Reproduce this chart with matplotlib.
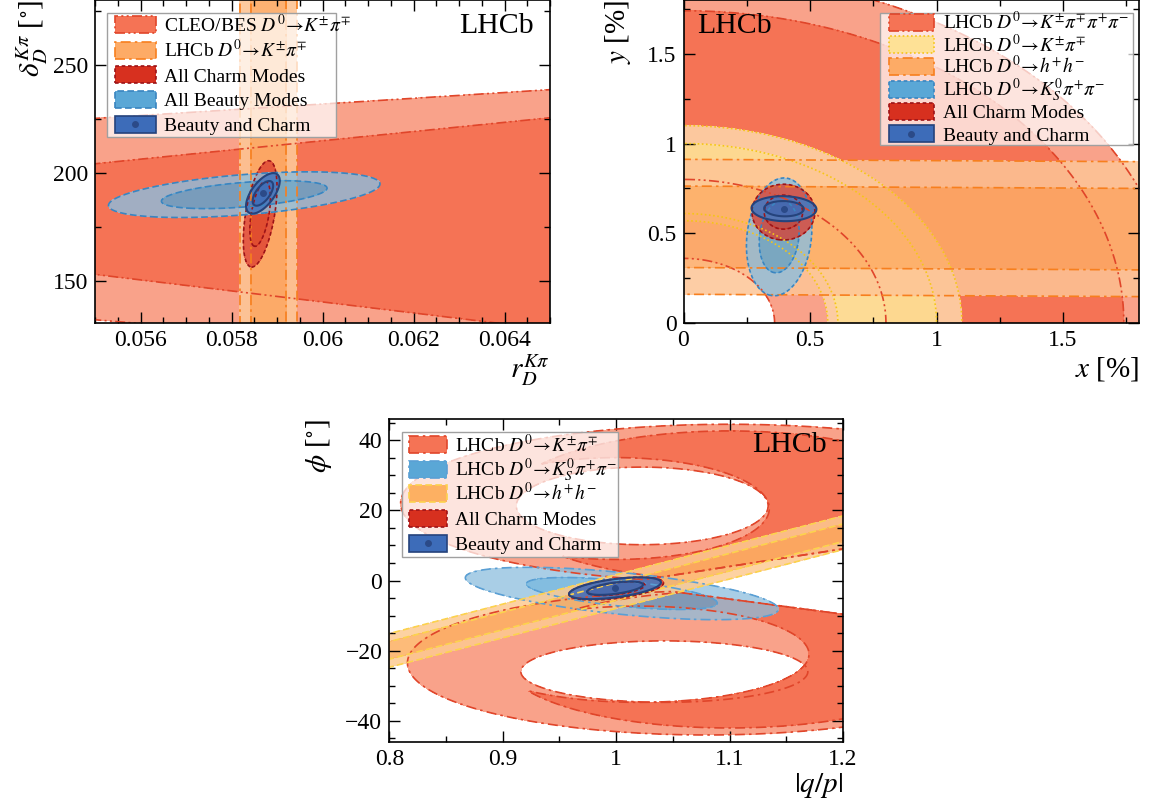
import numpy as np
import matplotlib.pyplot as plt
from matplotlib.patches import Rectangle
from matplotlib.ticker import MultipleLocator, FuncFormatter

plt.rcParams['font.family'] = 'Liberation Serif'
plt.rcParams['mathtext.fontset'] = 'stix'

# ---------------- data (contour parameters) ----------------
# chi2 levels for 1 and 2 sigma in two dimensions
levels_2d = [2.30, 6.18]

# panel 1 : r_D vs delta_D
p1_xlim = [0.055, 0.065]
p1_ylim = [130.5, 280.0]
cleo_centre = [178.6, 176.5]            # band centre at left / right edge
cleo_half_1s = [25.6, 49.0]
cleo_half_2s = [46.6, 62.0]
lhcbkpi_r_centre = [0.05881, 0.05881]   # vertical band
lhcbkpi_r_half = [0.00039, 0.000625]    # 1 sigma, 2 sigma
charm1_mean = [0.05863, 181.0]
charm1_sigma = [0.000149, 9.9]
charm1_rho = 0.5
beauty1_mean = [0.05828, 189.9]
beauty1_sigma = [0.0012, 4.25]
beauty1_rho = 0.47
comb1_mean = [0.05869, 190.5]
comb1_sigma = [0.000149, 3.77]
comb1_rho = 0.62

# panel 2 : x vs y  [%]
p2_xlim = [0.0, 1.8]
p2_ylim = [0.0, 1.8]
k3pi_radius_1s = [0.80, 1.74]
k3pi_radius_2s = [0.36, 1.95]
kpi2_radius_1s = [0.61, 1.00]
kpi2_radius_2s = [0.57, 1.10]
hh2_centre = [0.536, 0.523]
hh2_half = [0.227, 0.376]
kspp2_mean = [0.378, 0.480]
kspp2_sigma = [0.052, 0.132]
kspp2_rho = 0.15
charm2_mean = [0.395, 0.618]
charm2_sigma = [0.050, 0.0625]
charm2_rho = 0.0
comb2_mean = [0.397, 0.637]
comb2_sigma = [0.0516, 0.028]
comb2_rho = -0.05

# panel 3 : |q/p| vs phi
p3_xlim = [0.8, 1.2]
p3_ylim = [-46.0, 46.0]
# loops: outer edge and hole as (x centre, y centre, x semi-axis, y semi-axis),
# plus the straight edge at the waist (x0, y0, slope, side)
kpi3_up_2s = [[1.10, 22.0, 0.29, 22.5], [1.023, 21.25, 0.111, 11.05], [1.0, -1.0, 50.0, 1]]
kpi3_up_1s = [[1.10, 21.3, 0.20, 21.3], [1.00, 20.5, 0.135, 14.5], [1.0, -1.0, 50.0, 1]]
kpi3_lo_2s = [[1.08, -23.5, 0.264, 20.5], [1.0425, -25.95, 0.1265, 8.75], [1.0, -1.0, -43.0, -1]]
kpi3_lo_1s = [[1.10, -22.5, 0.20, 19.5], [1.02, -21.0, 0.15, 13.7], [1.0, -1.0, -43.0, -1]]
hh3_centre = [-19.9, 13.6]
hh3_half = [2.5, 4.8]
kspp3_mean = [1.005, -3.7]
kspp3_sigma = [0.0555, 3.0]
kspp3_rho = -0.6
charm3_mean = [1.0, -2.3]
charm3_sigma = [0.0168, 1.3]
charm3_rho = 0.5
comb3_mean = [0.999, -2.2]
comb3_sigma = [0.0163, 1.25]
comb3_rho = 0.53

# legend labels
p1_labels = [r'CLEO/BES $D^0\!\rightarrow\!K^{\pm}\pi^{\mp}$', r'LHCb $D^0\!\rightarrow\!K^{\pm}\pi^{\mp}$',
             'All Charm Modes', 'All Beauty Modes', 'Beauty and Charm']
p2_labels = [r'LHCb $D^0\!\rightarrow\!K^{\pm}\pi^{\mp}\pi^{+}\pi^{-}$', r'LHCb $D^0\!\rightarrow\!K^{\pm}\pi^{\mp}$',
             r'LHCb $D^0\!\rightarrow\!h^{+}h^{-}$', r'LHCb $D^0\!\rightarrow\!K^0_S\pi^{+}\pi^{-}$',
             'All Charm Modes', 'Beauty and Charm']
p3_labels = [r'LHCb $D^0\!\rightarrow\!K^{\pm}\pi^{\mp}$', r'LHCb $D^0\!\rightarrow\!K^0_S\pi^{+}\pi^{-}$',
             r'LHCb $D^0\!\rightarrow\!h^{+}h^{-}$', 'All Charm Modes', 'Beauty and Charm']

# ---------------- styles ----------------
RED1, RED2, RED_E = '#f57355', '#f9a28a', '#e0452a'
ORA1, ORA2, ORA_E = '#fdab66', '#fdc596', '#f77f1e'
YEL1, YEL2, YEL_E = '#fee196', '#fdd0a5', '#f5c518'
BLU1, BLU2, BLU_E = '#5aa7d6', '#8cbede', '#3a85c0'
HH1, HH2, HH_E = '#fdb062', '#fdca92', '#fcd34d'
CHA1, CHA2, CHA_E = '#d7301f', '#dc3c2e', '#9c1418'
BC1, BC2, BC_E = '#3d6cb9', '#4a78bd', '#25437c'
DOT_C = '#2b4a88'
DASHDOTDOT = (0, (6, 2, 1.2, 2, 1.2, 2))
DASHDOT = (0, (6, 2.5, 1.5, 2.5))
DASHED = (0, (4, 2))
SHORTDASH = (0, (2.2, 1.6))
DOTTED = (0, (1, 1.5))


def gauss_f(X, Y, mean, sigma, rho, q):
    dx = (X - mean[0]) / sigma[0]
    dy = (Y - mean[1]) / sigma[1]
    chi2 = (dx**2 - 2 * rho * dx * dy + dy**2) / (1 - rho**2)
    return np.sqrt(chi2 / q)


def band_f(t, V, centre, half):
    c = centre[0] + t * (centre[1] - centre[0])
    return np.abs(V - c) / half


def ring_f(X, Y, radius):
    r = np.hypot(X, Y)
    return np.abs(r - 0.5 * (radius[0] + radius[1])) / (0.5 * (radius[1] - radius[0]))


def loop_f(X, Y, shape):
    o, i, cut = shape
    eo = np.sqrt(((X - o[0]) / o[2])**2 + ((Y - o[1]) / o[3])**2)
    ei = np.sqrt(((X - i[0]) / i[2])**2 + ((Y - i[1]) / i[3])**2)
    line = cut[1] + cut[2] * (X - cut[0])
    fc = 1 - cut[3] * (Y - line) / 10.0
    return np.maximum(np.maximum(eo, 2 - ei), fc)


def draw(ax, X, Y, f1, f2, c1, c2, ec, ls, lw=1.2, alpha=1.0):
    ax.contourf(X, Y, np.maximum(f2, 2 - f1), levels=[-1e9, 1], colors=[c2], alpha=alpha)
    ax.contourf(X, Y, f1, levels=[-1e9, 1], colors=[c1], alpha=alpha)
    for f in (f2, f1):
        cs = ax.contour(X, Y, f, levels=[1], colors=[ec], linewidths=lw)
        cs.set_linestyle(ls)


def gauss_pair(X, Y, mean, sigma, rho):
    return (gauss_f(X, Y, mean, sigma, rho, levels_2d[0]),
            gauss_f(X, Y, mean, sigma, rho, levels_2d[1]))


def style_axes(ax, xlim, ylim, xmaj, xmin, ymaj, ymin):
    ax.set_xlim(xlim)
    ax.set_ylim(ylim)
    ax.xaxis.set_major_locator(MultipleLocator(xmaj))
    ax.xaxis.set_minor_locator(MultipleLocator(xmin))
    ax.yaxis.set_major_locator(MultipleLocator(ymaj))
    ax.yaxis.set_minor_locator(MultipleLocator(ymin))
    fmt = FuncFormatter(lambda v, p: ('%g' % round(v, 6)).replace('-', '\u2212'))
    ax.xaxis.set_major_formatter(fmt)
    ax.yaxis.set_major_formatter(fmt)
    ax.tick_params(which='both', direction='in', top=True, right=True, labelsize=17, width=1.0)
    ax.tick_params(which='major', length=8, pad=5)
    ax.tick_params(which='minor', length=4)
    for s in ax.spines.values():
        s.set_linewidth(1.2)
        s.set_zorder(20)


def legend_box(ax, box, x0, x1, xt, rows, entries, labels, ph=0.053):
    # ROOT-like legend: translucent frame, swatches and text placed in axes fraction
    ax.add_patch(Rectangle((box[0], box[2]), box[1] - box[0], box[3] - box[2],
                           transform=ax.transAxes, facecolor=(1, 1, 1, 0.72),
                           edgecolor='#a0a0a0', linewidth=1.0, zorder=30))
    for (fc, ec, ls, dot), lab, yc in zip(entries, labels, rows):
        ax.add_patch(Rectangle((x0, yc - ph / 2), x1 - x0, ph, transform=ax.transAxes,
                               facecolor=fc, edgecolor=ec, linestyle=ls, linewidth=1.2, zorder=31))
        if dot:
            ax.plot([(x0 + x1) / 2], [yc], 'o', color=DOT_C, ms=4, transform=ax.transAxes,
                    zorder=32, clip_on=False)
        ax.text(xt, yc - 0.021, lab, transform=ax.transAxes, fontsize=14,
                ha='left', va='baseline', zorder=33)


W, H = 1152, 805
fig = plt.figure(figsize=(W / 100, H / 100), dpi=100)


def add_axes(l, r, t, b):
    return fig.add_axes([l / W, 1 - b / H, (r - l) / W, (b - t) / H])


# ---------------- panel 1 ----------------
ax1 = add_axes(95, 550, 0, 323)
gx = np.linspace(0.0549, 0.0651, 500)
gy = np.linspace(129, 282, 500)
X, Y = np.meshgrid(gx, gy)
t = (X - p1_xlim[0]) / (p1_xlim[1] - p1_xlim[0])
half1 = cleo_half_1s[0] + t * (cleo_half_1s[1] - cleo_half_1s[0])
half2 = cleo_half_2s[0] + t * (cleo_half_2s[1] - cleo_half_2s[0])
draw(ax1, X, Y, band_f(t, Y, cleo_centre, half1), band_f(t, Y, cleo_centre, half2),
     RED1, RED2, RED_E, DASHDOTDOT)
ty = (Y - p1_ylim[0]) / (p1_ylim[1] - p1_ylim[0])
draw(ax1, X, Y, band_f(ty, X, lhcbkpi_r_centre, lhcbkpi_r_half[0]),
     band_f(ty, X, lhcbkpi_r_centre, lhcbkpi_r_half[1]),
     ORA1, ORA2, ORA_E, DASHDOT, alpha=0.92)
draw(ax1, X, Y, *gauss_pair(X, Y, charm1_mean, charm1_sigma, charm1_rho),
     CHA1, CHA2, CHA_E, SHORTDASH, alpha=0.75)
draw(ax1, X, Y, *gauss_pair(X, Y, beauty1_mean, beauty1_sigma, beauty1_rho),
     BLU1, BLU2, BLU_E, DASHED, alpha=0.8)
draw(ax1, X, Y, *gauss_pair(X, Y, comb1_mean, comb1_sigma, comb1_rho),
     BC1, BC2, BC_E, '-', lw=1.5, alpha=0.92)
ax1.plot(comb1_mean[0], comb1_mean[1], 'o', color=DOT_C, ms=4)
style_axes(ax1, p1_xlim, p1_ylim, 0.002, 0.0005, 50, 25)
ax1.set_xlabel(r'$r_D^{K\pi}$', fontsize=21, loc='right', labelpad=1)
ax1.set_ylabel(r'$\delta_D^{K\pi}$ [$^{\circ}$]', fontsize=21, loc='top', labelpad=2)
ax1.text(0.965, 0.96, 'LHCb', transform=ax1.transAxes, ha='right', va='top', fontsize=21.5, zorder=25)
legend_box(ax1, [0.026, 0.53, 0.577, 0.96], 0.043, 0.134, 0.151,
           [0.923, 0.845, 0.768, 0.693, 0.615],
           [(RED1, RED_E, DASHDOTDOT, False), (ORA1, ORA_E, DASHDOT, False),
            (CHA1, CHA_E, SHORTDASH, False), (BLU1, BLU_E, DASHED, False), (BC1, BC_E, '-', True)],
           p1_labels)

# ---------------- panel 2 ----------------
ax2 = add_axes(683.5, 1139, 0, 323)
gx = np.linspace(-0.01, 1.81, 500)
gy = np.linspace(-0.01, 1.81, 500)
X, Y = np.meshgrid(gx, gy)
draw(ax2, X, Y, ring_f(X, Y, k3pi_radius_1s), ring_f(X, Y, k3pi_radius_2s),
     RED1, RED2, RED_E, DASHDOTDOT)
draw(ax2, X, Y, ring_f(X, Y, kpi2_radius_1s), ring_f(X, Y, kpi2_radius_2s),
     YEL1, YEL2, YEL_E, DOTTED, alpha=0.92)
t = (X - p2_xlim[0]) / (p2_xlim[1] - p2_xlim[0])
draw(ax2, X, Y, band_f(t, Y, hh2_centre, hh2_half[0]), band_f(t, Y, hh2_centre, hh2_half[1]),
     ORA1, ORA2, ORA_E, DASHDOT, alpha=0.85)
draw(ax2, X, Y, *gauss_pair(X, Y, kspp2_mean, kspp2_sigma, kspp2_rho),
     BLU1, BLU2, BLU_E, SHORTDASH, alpha=0.8)
draw(ax2, X, Y, *gauss_pair(X, Y, charm2_mean, charm2_sigma, charm2_rho),
     CHA1, CHA2, CHA_E, SHORTDASH, alpha=0.75)
draw(ax2, X, Y, *gauss_pair(X, Y, comb2_mean, comb2_sigma, comb2_rho),
     BC1, BC2, BC_E, '-', lw=1.5, alpha=0.92)
ax2.plot(comb2_mean[0], comb2_mean[1], 'o', color=DOT_C, ms=4)
style_axes(ax2, p2_xlim, p2_ylim, 0.5, 0.25, 0.5, 0.25)
ax2.set_xlabel(r'$x$ [%]', fontsize=21, loc='right', labelpad=3)
ax2.set_ylabel(r'$y$ [%]', fontsize=21, loc='top', labelpad=10)
ax2.text(0.029, 0.96, 'LHCb', transform=ax2.transAxes, ha='left', va='top', fontsize=21.5, zorder=25)
legend_box(ax2, [0.431, 0.986, 0.552, 0.961], 0.451, 0.549, 0.569,
           [0.930, 0.861, 0.794, 0.724, 0.655, 0.586],
           [(RED1, RED_E, DASHDOTDOT, False), (YEL1, YEL_E, DOTTED, False), (ORA1, ORA_E, DASHDOT, False),
            (BLU1, BLU_E, SHORTDASH, False), (CHA1, CHA_E, SHORTDASH, False), (BC1, BC_E, '-', True)],
           p2_labels, ph=0.052)

# ---------------- panel 3 ----------------
ax3 = add_axes(389.3, 843, 419, 742)
gx = np.linspace(0.795, 1.205, 500)
gy = np.linspace(-47, 47, 500)
X, Y = np.meshgrid(gx, gy)
f1 = np.minimum(loop_f(X, Y, kpi3_up_1s), loop_f(X, Y, kpi3_lo_1s))
f2 = np.minimum(loop_f(X, Y, kpi3_up_2s), loop_f(X, Y, kpi3_lo_2s))
draw(ax3, X, Y, f1, f2, RED1, RED2, RED_E, DASHDOT)
draw(ax3, X, Y, *gauss_pair(X, Y, kspp3_mean, kspp3_sigma, kspp3_rho),
     BLU1, BLU2, '#5a9fd4', DASHDOT, alpha=0.75)
t = (X - p3_xlim[0]) / (p3_xlim[1] - p3_xlim[0])
draw(ax3, X, Y, band_f(t, Y, hh3_centre, hh3_half[0]), band_f(t, Y, hh3_centre, hh3_half[1]),
     HH1, HH2, HH_E, DASHED, alpha=0.85)
draw(ax3, X, Y, *gauss_pair(X, Y, charm3_mean, charm3_sigma, charm3_rho),
     CHA1, CHA2, CHA_E, SHORTDASH, alpha=0.8)
draw(ax3, X, Y, *gauss_pair(X, Y, comb3_mean, comb3_sigma, comb3_rho),
     BC1, BC2, BC_E, '-', lw=1.5, alpha=0.92)
ax3.plot(comb3_mean[0], comb3_mean[1], 'o', color=DOT_C, ms=4)
style_axes(ax3, p3_xlim, p3_ylim, 0.1, 0.05, 20, 5)
ax3.set_xlabel(r'$|q/p|$', fontsize=21, loc='right', labelpad=1)
ax3.set_ylabel(r'$\phi$ [$^{\circ}$]', fontsize=21, loc='top', labelpad=8)
ax3.text(0.965, 0.96, 'LHCb', transform=ax3.transAxes, ha='right', va='top', fontsize=21.5, zorder=25)
legend_box(ax3, [0.027, 0.505, 0.574, 0.959], 0.043, 0.127, 0.145,
           [0.920, 0.844, 0.769, 0.692, 0.615],
           [(RED1, RED_E, DASHDOT, False), (BLU1, '#5a9fd4', DASHDOT, False), (HH1, HH_E, DASHED, False),
            (CHA1, CHA_E, SHORTDASH, False), (BC1, BC_E, '-', True)],
           p3_labels)

fig.savefig('out.png', dpi=100)
